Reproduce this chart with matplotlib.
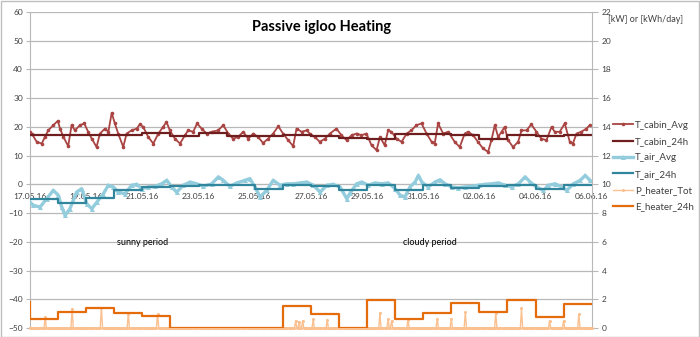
import numpy as np
import matplotlib
matplotlib.use("Agg")
import matplotlib.pyplot as plt
from matplotlib.patches import Rectangle

plt.rcParams['font.family'] = ['Lato', 'DejaVu Sans']

# ---- data (time in days since 17.05.16 00:00) ----
date_labels = ["17.05.16", "19.05.16", "21.05.16", "23.05.16", "25.05.16", "27.05.16",
               "29.05.16", "31.05.16", "02.06.16", "04.06.16", "06.06.16"]

cabin_t = [0.00, 0.06, 0.24, 0.42, 0.53, 0.65, 0.83, 0.99, 1.07, 1.19, 1.36, 1.48, 1.60, 1.78,
           1.93, 2.07, 2.20, 2.37, 2.49, 2.67, 2.79, 2.91, 3.02, 3.14, 3.32, 3.44, 3.62, 3.80,
           3.91, 4.03, 4.21, 4.39, 4.57, 4.74, 4.86, 4.98, 5.16, 5.34, 5.52, 5.63, 5.81, 5.95,
           6.11, 6.29, 6.47, 6.70, 6.88, 7.06, 7.23, 7.41, 7.59, 7.77, 7.95, 8.12, 8.30, 8.48,
           8.66, 8.84, 9.01, 9.19, 9.37, 9.49, 9.67, 9.85, 9.96, 10.14, 10.32, 10.50, 10.68,
           10.91, 11.09, 11.27, 11.45, 11.63, 11.80, 11.98, 12.16, 12.34, 12.46, 12.63, 12.75,
           12.87, 13.05, 13.23, 13.41, 13.58, 13.76, 13.94, 14.12, 14.30, 14.41, 14.53, 14.71,
           14.89, 15.12, 15.30, 15.48, 15.60, 15.78, 15.95, 16.13, 16.31, 16.43, 16.55, 16.67,
           16.79, 16.90, 17.02, 17.20, 17.38, 17.50, 17.68, 17.85, 18.03, 18.21, 18.39, 18.57,
           18.68, 18.86, 19.04, 19.22, 19.33, 19.46, 19.63, 19.81, 19.93]
cabin_avg = [18.3, 17.7, 14.8, 14.2, 16.5, 18.8, 20.6, 22.1, 19.4, 16.5, 13.3, 20.6, 18.8, 20.6,
             21.2, 18.3, 15.9, 13.0, 17.7, 19.4, 18.3, 24.9, 21.2, 17.7, 13.0, 17.7, 18.8, 19.4,
             20.9, 20.0, 16.5, 14.2, 17.7, 20.0, 21.7, 18.8, 15.9, 14.2, 17.1, 18.8, 18.3, 21.2,
             19.4, 17.7, 18.3, 18.8, 20.6, 17.7, 15.9, 16.5, 18.3, 15.9, 17.7, 16.5, 14.4, 15.9,
             17.7, 20.2, 17.7, 15.4, 13.3, 19.4, 18.3, 18.8, 17.7, 16.5, 14.8, 15.9, 17.7,
             19.4, 17.1, 15.4, 17.1, 17.7, 17.1, 17.7, 13.6, 11.9, 16.5, 13.6, 18.8,
             18.3, 15.9, 14.8, 17.7, 18.8, 20.6, 21.2, 17.7, 14.8, 14.2, 21.2, 17.7,
             18.3, 14.8, 13.0, 17.7, 18.3, 17.1, 14.8, 12.5, 11.3, 15.4, 20.6, 16.5,
             18.3, 20.0, 15.4, 13.0, 14.8, 18.8, 18.8, 20.9, 18.3, 15.9, 15.4, 20.0,
             18.3, 18.3, 21.2, 14.8, 14.2, 17.7, 18.3, 19.4, 20.6]

cabin_24h = [17.2, 17.2, 17.3, 17.3, 17.9, 17.0, 18.0, 16.8, 16.7, 17.1,
             16.9, 16.0, 15.7, 17.5, 17.4, 17.3, 15.8, 17.2, 17.0, 17.2]

air_t = [0.00, 0.12, 0.36, 0.59, 0.83, 1.01, 1.13, 1.25, 1.42, 1.66, 1.84, 2.02, 2.20, 2.38,
         2.61, 2.79, 2.97, 3.14, 3.38, 3.62, 3.80, 3.98, 4.21, 4.45, 4.69, 4.87, 5.05, 5.22,
         5.46, 5.70, 5.94, 6.17, 6.47, 6.71, 6.88, 7.12, 7.36, 7.66, 7.83, 8.01, 8.19, 8.43,
         8.66, 8.90, 9.14, 9.38, 9.62, 9.85, 10.09, 10.33, 10.57, 10.80, 11.04, 11.28, 11.40,
         11.63, 11.81, 12.05, 12.29, 12.52, 12.76, 13.00, 13.18, 13.35, 13.53, 13.71, 13.83,
         13.95, 14.18, 14.42, 14.60, 14.78, 15.02, 15.25, 15.49, 15.73, 15.97, 16.20, 16.44,
         16.68, 16.92, 17.15, 17.39, 17.63, 17.81, 18.04, 18.28, 18.46, 18.70, 18.93, 19.11,
         19.35, 19.59, 19.77, 19.94]
air_avg = [-6.2, -7.3, -7.9, -5.0, -2.1, -3.8, -7.9, -10.8, -8.5, -2.7, -1.5, -6.7, -8.5, -6.2,
           -3.3, -0.3, -0.9, -2.7, -3.3, -0.3, 0.0, -1.5, -0.9, -0.7, 0.2, 1.4, -0.9, -2.7,
           -0.3, 0.8, 0.2, -0.7, 0.2, 2.6, 1.4, -0.7, 0.5, 1.4, 2.0, -0.9, -4.4, -2.1,
           1.4, -0.3, 0.2, 0.2, 0.5, 0.8, -0.3, -2.7, -0.3, 0.0, -0.9, -5.0, -3.0,
           0.2, 0.8, -0.3, 0.5, 0.2, 0.5, -1.5, -3.8, -4.4, -0.9, 0.8, 3.1,
           0.8, -0.9, 0.8, 1.6, 0.2, -0.9, -1.2, -0.9, -0.7, -0.3, 0.0, 0.2,
           0.5, -0.3, -0.9, 0.2, 2.6, 0.8, -0.9, -2.1, -0.3, 0.2, -0.9, -2.1,
           0.2, 1.4, 3.1, 1.4]

air_24h = [-5.2, -6.4, -4.7, -1.9, -0.9, -0.5, -0.2, -0.2, -1.6, -0.3,
           -0.7, -2.1, -0.3, -1.9, -0.3, -1.2, -0.7, -0.2, -1.5, -0.3]

# heater power peaks [kW] and daily energy [kWh/day]
p_peak_t = [0.53, 1.49, 2.53, 3.50, 4.55, 9.47, 9.58, 9.69, 10.07, 10.57, 12.44, 12.75,
            12.89, 13.47, 14.48, 15.02, 15.52, 16.58, 17.51, 18.49, 19.02, 19.53]
p_peak_kw = [0.78, 1.32, 1.42, 1.00, 0.96, 0.50, 0.45, 0.50, 0.60, 0.55, 1.06, 0.60,
             0.50, 0.59, 0.66, 0.66, 1.08, 1.06, 1.36, 0.50, 0.50, 0.96]

e_first = 1.80
e_24h = [0.62, 1.12, 1.36, 1.02, 0.84, 0.0, 0.0, 0.0, 0.0, 1.55,
         0.94, 0.0, 1.97, 0.61, 1.06, 1.77, 1.12, 1.95, 0.78, 1.67]

# ---- colours ----
c_cab = '#A94442'
c_cab24 = '#6E1E1E'
c_air = '#93CDDD'
c_air24 = '#31859C'
c_p = '#FAC090'
c_e = '#E46C0A'
c_grid = '#B8B8B8'
c_txt = '#404040'

W, H = 700, 337
fig = plt.figure(figsize=(W / 100, H / 100), dpi=100)
ax = fig.add_axes([30 / W, 1 - 328 / H, (591.7 - 30) / W, (328 - 12) / H])
ax2 = ax.twinx()

days = np.arange(len(cabin_24h) + 1)

# temperatures on the left axis
ax.plot(cabin_t, cabin_avg, color=c_cab, lw=1.3, marker='o', ms=2.6, mew=0,
        label='T_cabin_Avg', zorder=3)
ax.plot(days, cabin_24h + [cabin_24h[-1]], color=c_cab24, lw=1.6,
        drawstyle='steps-post', label='T_cabin_24h', zorder=4)
ax.plot(air_t, air_avg, color=c_air, lw=2.4, marker='^', ms=3.6, mew=0,
        label='T_air_Avg', zorder=3)
ax.plot(days, air_24h + [air_24h[-1]], color=c_air24, lw=1.6,
        drawstyle='steps-post', label='T_air_24h', zorder=4)

# heater on the right axis
hours = np.arange(0, 20 * 24 + 1)
p_tot = np.zeros(len(hours))
for t, kw in zip(p_peak_t, p_peak_kw):
    p_tot[int(round(t * 24))] = kw
ax2.plot(hours / 24.0, p_tot, color=c_p, lw=1.0, marker='o', ms=2.2, mew=0,
         label='P_heater_Tot', zorder=3, clip_on=False)
ax2.plot(np.concatenate([[0], days]), [e_first] + e_24h + [e_24h[-1]], color=c_e,
         lw=1.6, drawstyle='steps-post', label='E_heater_24h', zorder=4)

# axes styling
ax.set_xlim(0, 20)
ax.set_ylim(-50, 60)
ax.set_yticks(np.arange(-50, 61, 10))
ax2.set_ylim(0, 22)
ax2.set_yticks(np.arange(0, 23, 2))
ax.yaxis.grid(True, color=c_grid, lw=0.9)
ax.set_axisbelow(True)

ax.set_xticks(np.arange(0, 21, 2))
ax.set_xticklabels(date_labels)
ax.spines['bottom'].set_position(('data', 0))
for s in ['top', 'right']:
    ax.spines[s].set_visible(False)
for s in ['top', 'left', 'bottom']:
    ax2.spines[s].set_visible(False)
ax.spines['left'].set_color(c_grid)
ax.spines['bottom'].set_color(c_grid)
ax2.spines['right'].set_color(c_grid)

ax.tick_params(axis='x', length=0, pad=6, labelsize=6, labelcolor=c_txt)
ax.tick_params(axis='y', length=3, width=0.8, color=c_grid, pad=2, labelsize=6,
               labelcolor=c_txt)
ax2.tick_params(axis='y', length=4, width=0.8, color=c_grid, pad=3, labelsize=6,
                labelcolor=c_txt)

# texts
fig.text(322 / W, 1 - 27 / H, 'Passive igloo Heating', ha='center', va='center',
         fontsize=10.5, fontweight='bold', color='black')
fig.text(608 / W, 1 - 20 / H, '[kW] or [kWh/day]', ha='left', va='center',
         fontsize=6.5, color=c_txt)
ax.text(4, -20.2, 'sunny period', ha='center', va='center', fontsize=6.5, color='black')
ax.text(14.25, -20.2, 'cloudy period', ha='center', va='center', fontsize=6.5,
        color='black')

# legend
h1, l1 = ax.get_legend_handles_labels()
h2, l2 = ax2.get_legend_handles_labels()
fig.legend(h1 + h2, l1 + l2, loc='upper left', bbox_to_anchor=(608 / W, 1 - 116 / H),
           frameon=False, fontsize=7, handlelength=2.1, handletextpad=0.2,
           labelspacing=0.75, borderpad=0, labelcolor=c_txt)

# chart border
fig.patches.append(Rectangle((0.5 / W, 0.5 / H), (W - 1.5) / W, (H - 1.5) / H,
                             transform=fig.transFigure, fill=False,
                             edgecolor='#BFBFBF', lw=1))

fig.savefig('out.png', dpi=100)
